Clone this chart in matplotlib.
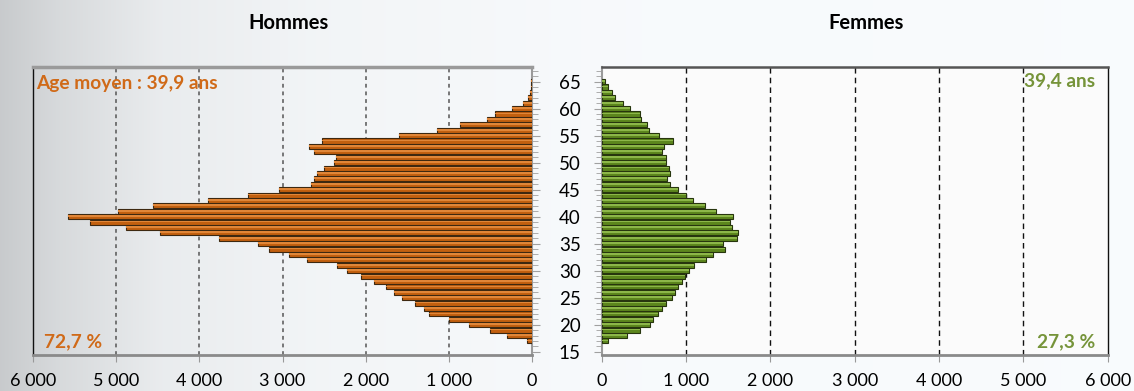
import matplotlib
matplotlib.use("Agg")
import matplotlib.pyplot as plt
import numpy as np
from matplotlib.ticker import FuncFormatter, MultipleLocator

plt.rcParams['font.family'] = ['Lato', 'DejaVu Sans']

# effectifs par âge (17 à 65 ans)
ages = list(range(17, 66))
hommes = [60, 300, 500, 760, 1000, 1240, 1300, 1400, 1560, 1660,
          1760, 1900, 2060, 2220, 2340, 2700, 2920, 3160, 3300, 3760,
          4480, 4880, 5320, 5580, 4980, 4560, 3900, 3420, 3040, 2660,
          2620, 2580, 2500, 2380, 2360, 2620, 2680, 2520, 1600, 1140,
          860, 540, 440, 240, 100, 40, 20, 10, 5]
femmes = [80, 300, 450, 570, 610, 670, 710, 760, 830, 870,
          900, 950, 990, 1030, 1090, 1240, 1320, 1460, 1440, 1600,
          1620, 1540, 1520, 1560, 1360, 1220, 1080, 1000, 910, 810,
          780, 810, 800, 760, 760, 720, 740, 850, 680, 560,
          540, 470, 450, 340, 250, 160, 120, 80, 40]

age_moyen_h = "39,9"
age_moyen_f = "39,4"
part_h = "72,7"
part_f = "27,3"

W, H = 1134, 391
fig = plt.figure(figsize=(W / 100, H / 100), dpi=100)

# fond gris dégradé vers le blanc
bg = fig.add_axes([0, 0, 1, 1], zorder=-10)
xs = np.arange(W)
lum = np.interp(xs, [0, 60, 160, 320, 600, W], [0.80, 0.86, 0.93, 0.965, 0.985, 0.99])
grad = np.dstack([lum - 0.015, lum - 0.005, lum + 0.003])
grad = np.clip(np.repeat(grad, 2, axis=0), 0, 1)
bg.imshow(grad, aspect='auto', extent=[0, 1, 0, 1])
bg.axis('off')


def px(x0, y0, x1, y1):
    return [x0 / W, 1 - y1 / H, (x1 - x0) / W, (y1 - y0) / H]


ax_h = fig.add_axes(px(33.3, 67, 531.7, 355))
ax_f = fig.add_axes(px(601.7, 67, 1107.7, 355))
ax_h.set_facecolor('none')
ax_f.set_facecolor('#fbfbfb')

fmt = FuncFormatter(lambda v, p: f"{int(v):,}".replace(",", " "))


def pyramide(ax, valeurs, base, clair, bord):
    ax.barh(ages, valeurs, height=0.94, color=base, edgecolor=bord,
            linewidth=0.8, zorder=3)
    ax.barh(np.array(ages) + 0.1, valeurs, height=0.32, color=clair,
            linewidth=0, zorder=4)


pyramide(ax_h, hommes, '#c2600f', '#e08638', '#3d2810')
pyramide(ax_f, femmes, '#5c861d', '#8cb649', '#27350e')

for ax in (ax_h, ax_f):
    ax.set_ylim(14.4, 67.7)
    ax.set_xticks(range(0, 7000, 1000))
    ax.xaxis.set_major_formatter(fmt)
    ax.tick_params(axis='x', direction='out', length=5, color='#999999',
                   labelsize=13, pad=8)
    ax.yaxis.set_major_locator(MultipleLocator(5))
    ax.yaxis.set_minor_locator(MultipleLocator(1))
    ax.tick_params(axis='y', which='both', direction='out', color='#a0a0a0')
    ax.tick_params(axis='y', which='major', length=6)
    ax.tick_params(axis='y', which='minor', length=4)

ax_h.set_xlim(6000, 0)
ax_f.set_xlim(0, 6000)

for v in range(1000, 6000, 1000):
    ax_h.axvline(v, color='#555555', lw=1.1, ls=(0, (2.5, 2.5)), zorder=1)
    ax_f.axvline(v, color='#111111', lw=1.0, ls=(0, (4, 3)), zorder=1)

ax_h.yaxis.tick_right()
ax_h.tick_params(axis='y', which='both', labelright=False)
ax_f.yaxis.tick_left()
ax_f.tick_params(axis='y', which='major', labelsize=13.5, pad=9)

ax_h.spines['top'].set_color('#9a9a9a')
ax_h.spines['top'].set_linewidth(2.5)
ax_h.spines['bottom'].set_color('#8a8a8a')
ax_h.spines['bottom'].set_linewidth(2)
ax_h.spines['left'].set_color('#111111')
ax_h.spines['left'].set_linewidth(1)
ax_h.spines['right'].set_color('#9a9a9a')
ax_h.spines['right'].set_linewidth(1.5)

ax_f.spines['top'].set_color('#555555')
ax_f.spines['top'].set_linewidth(1.8)
ax_f.spines['bottom'].set_color('#8a8a8a')
ax_f.spines['bottom'].set_linewidth(2)
ax_f.spines['left'].set_color('#9a9a9a')
ax_f.spines['left'].set_linewidth(1.5)
ax_f.spines['right'].set_color('#111111')
ax_f.spines['right'].set_linewidth(1)

orange = '#d06a18'
vert = '#76943a'

fig.text(288 / W, 1 - 23 / H, "Hommes", ha='center', va='center',
         fontsize=14.5, fontweight='bold')
fig.text(866 / W, 1 - 23 / H, "Femmes", ha='center', va='center',
         fontsize=14.5, fontweight='bold')
fig.text(36 / W, 1 - 84 / H, f"Age moyen : {age_moyen_h} ans", ha='left',
         va='center', fontsize=13.8, fontweight='bold', color=orange)
fig.text(44 / W, 1 - 342 / H, f"{part_h} %", ha='left', va='center',
         fontsize=13.8, fontweight='bold', color=orange)
fig.text(1095 / W, 1 - 81 / H, f"{age_moyen_f} ans", ha='right', va='center',
         fontsize=13.8, fontweight='bold', color=vert)
fig.text(1095 / W, 1 - 342 / H, f"{part_f} %", ha='right', va='center',
         fontsize=13.8, fontweight='bold', color=vert)

fig.savefig('out.png', dpi=100)
